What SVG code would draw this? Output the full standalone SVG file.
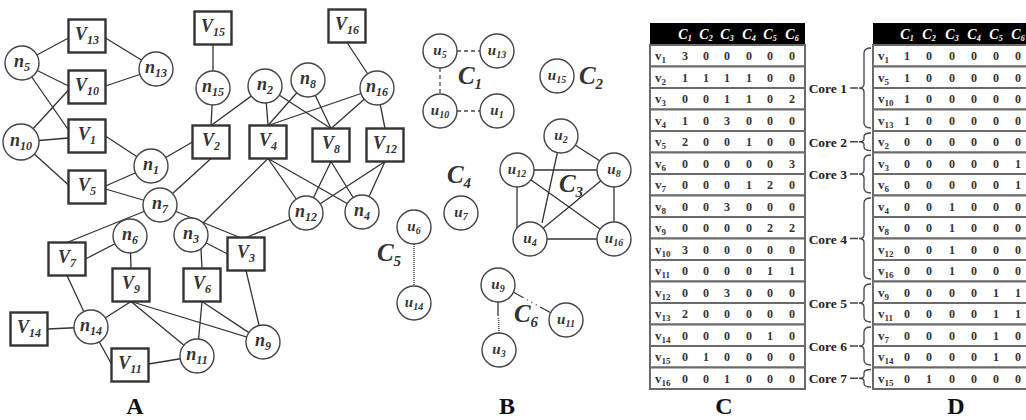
<svg xmlns="http://www.w3.org/2000/svg" width="1026" height="420" viewBox="0 0 1026 420">
<style>
.e{stroke:#333;stroke-width:1.3;fill:none}
.c{fill:#fff;stroke:#444;stroke-width:1.4}
.b{fill:#fff;stroke:#333;stroke-width:2.4}
.t{font-family:"Liberation Serif",serif;font-style:italic;font-weight:bold;font-size:18px;fill:#333;text-anchor:middle}
.s{font-size:12px}
.u{font-size:15px}
.us{font-size:10px}
.cl{font-size:25px}
.cs{font-size:15px}
.pl{font-family:"Liberation Serif",serif;font-weight:bold;font-size:24px;text-anchor:middle;fill:#111}
.tv{font-family:"Liberation Serif",serif;font-weight:bold;font-size:12px;fill:#333;text-anchor:middle}
.rl{font-family:"Liberation Serif",serif;font-weight:bold;font-size:13px;fill:#333}
.rs{font-size:9px}
.th{font-family:"Liberation Serif",serif;font-style:italic;font-weight:bold;font-size:14px;fill:#fff;text-anchor:middle}
.ths{font-size:8px}
.row{fill:#fff;stroke:#6a6a6a;stroke-width:2}
.core{font-family:"Liberation Serif",serif;font-weight:bold;font-size:13.5px;fill:#222;text-anchor:end}
.br{fill:none;stroke:#444;stroke-width:1.3}
.dash{stroke:#444;stroke-width:1.3;stroke-dasharray:4 3;fill:none}
.dot{stroke:#444;stroke-width:1.5;stroke-dasharray:1 1;fill:none}
</style>
<rect width="1026" height="420" fill="#fff"/>

<!-- Panel A connectors -->
<g id="connectors-A" class="e">
<path d="M22 63L68.5 38M22 63L68.5 86M22 63L68.5 130M105.5 38L156 69M105.5 86L156 69M21 142L68.5 90M21 142L68.5 138M21 142L68.5 185M105.5 136L151 166M105.5 186L151 166M105.5 189L160 205M151 166L192.5 142M160 205L211 158.5"/>
<path d="M213 44.5L213 88M213 88L211 125.5M265 86L211 125.5M265 86L268 125.5M265 86L331 128.5M308 80L268 125.5M308 80L331 128.5M377 88L268 125.5M377 88L331 128.5M377 88L385 128.5M347 42.5L377 88"/>
<path d="M268 158.5L306 213M268 158.5L362 212M331 161.5L306 213M331 161.5L362 212M385 161.5L306 213M385 161.5L362 212M268 158.5L191 235"/>
<path d="M160 205L240 237.5M306 213L246 237.5M191 235L227.5 254M201 249L202 268.5M246 270.5L263 342M202 301.5L197 356M202 301.5L263 342M131 301.5L263 342M131 301.5L197 356"/>
<path d="M160 205L67 242.5M85.5 259L130 236M130 236L131 268.5M67 275.5L91 327M91 327L131 301.5M47.5 329L91 327M91 327L111.5 364M148.5 364L197 356"/>
</g>

<!-- Panel A nodes -->
<g id="n5"><circle class="c" cx="22" cy="63" r="17"/><text class="t" x="22" y="67">n<tspan class="s" dy="4">5</tspan></text></g>
<g id="n13"><circle class="c" cx="156" cy="69" r="17"/><text class="t" x="156" y="73">n<tspan class="s" dy="4">13</tspan></text></g>
<g id="n10"><circle class="c" cx="21" cy="142" r="18"/><text class="t" x="21" y="146">n<tspan class="s" dy="4">10</tspan></text></g>
<g id="n1"><circle class="c" cx="151" cy="166" r="17"/><text class="t" x="151" y="170">n<tspan class="s" dy="4">1</tspan></text></g>
<g id="n7"><circle class="c" cx="160" cy="205" r="17"/><text class="t" x="160" y="209">n<tspan class="s" dy="4">7</tspan></text></g>
<g id="n15"><circle class="c" cx="213" cy="88" r="17"/><text class="t" x="213" y="92">n<tspan class="s" dy="4">15</tspan></text></g>
<g id="n2"><circle class="c" cx="265" cy="86" r="17"/><text class="t" x="265" y="90">n<tspan class="s" dy="4">2</tspan></text></g>
<g id="n8"><circle class="c" cx="308" cy="80" r="17"/><text class="t" x="308" y="84">n<tspan class="s" dy="4">8</tspan></text></g>
<g id="n16"><circle class="c" cx="377" cy="88" r="17"/><text class="t" x="377" y="92">n<tspan class="s" dy="4">16</tspan></text></g>
<g id="n12"><circle class="c" cx="306" cy="213" r="17"/><text class="t" x="306" y="217">n<tspan class="s" dy="4">12</tspan></text></g>
<g id="n4"><circle class="c" cx="362" cy="212" r="17"/><text class="t" x="362" y="216">n<tspan class="s" dy="4">4</tspan></text></g>
<g id="n3"><circle class="c" cx="191" cy="235" r="17"/><text class="t" x="191" y="239">n<tspan class="s" dy="4">3</tspan></text></g>
<g id="n6"><circle class="c" cx="130" cy="236" r="17"/><text class="t" x="130" y="240">n<tspan class="s" dy="4">6</tspan></text></g>
<g id="n14"><circle class="c" cx="91" cy="327" r="17"/><text class="t" x="91" y="331">n<tspan class="s" dy="4">14</tspan></text></g>
<g id="n9"><circle class="c" cx="263" cy="342" r="17"/><text class="t" x="263" y="346">n<tspan class="s" dy="4">9</tspan></text></g>
<g id="n11"><circle class="c" cx="197" cy="356" r="17"/><text class="t" x="197" y="360">n<tspan class="s" dy="4">11</tspan></text></g>

<g id="V13"><rect class="b" x="68.5" y="19.5" width="37" height="33"/><text class="t" x="87" y="40">V<tspan class="s" dy="4">13</tspan></text></g>
<g id="V10"><rect class="b" x="68.5" y="70.5" width="37" height="33"/><text class="t" x="87" y="91">V<tspan class="s" dy="4">10</tspan></text></g>
<g id="V1"><rect class="b" x="68.5" y="119.5" width="37" height="33"/><text class="t" x="87" y="140">V<tspan class="s" dy="4">1</tspan></text></g>
<g id="V5"><rect class="b" x="68.5" y="170.5" width="37" height="33"/><text class="t" x="87" y="191">V<tspan class="s" dy="4">5</tspan></text></g>
<g id="V15"><rect class="b" x="194.5" y="11.5" width="37" height="33"/><text class="t" x="213" y="32">V<tspan class="s" dy="4">15</tspan></text></g>
<g id="V16"><rect class="b" x="328.5" y="9.5" width="37" height="33"/><text class="t" x="347" y="30">V<tspan class="s" dy="4">16</tspan></text></g>
<g id="V2"><rect class="b" x="192.5" y="125.5" width="37" height="33"/><text class="t" x="211" y="146">V<tspan class="s" dy="4">2</tspan></text></g>
<g id="V4"><rect class="b" x="249.5" y="125.5" width="37" height="33"/><text class="t" x="268" y="146">V<tspan class="s" dy="4">4</tspan></text></g>
<g id="V8"><rect class="b" x="312.5" y="128.5" width="37" height="33"/><text class="t" x="331" y="149">V<tspan class="s" dy="4">8</tspan></text></g>
<g id="V12"><rect class="b" x="366.5" y="128.5" width="37" height="33"/><text class="t" x="385" y="149">V<tspan class="s" dy="4">12</tspan></text></g>
<g id="V3"><rect class="b" x="227.5" y="237.5" width="37" height="33"/><text class="t" x="246" y="258">V<tspan class="s" dy="4">3</tspan></text></g>
<g id="V6"><rect class="b" x="183.5" y="268.5" width="37" height="33"/><text class="t" x="202" y="289">V<tspan class="s" dy="4">6</tspan></text></g>
<g id="V7"><rect class="b" x="48.5" y="242.5" width="37" height="33"/><text class="t" x="67" y="263">V<tspan class="s" dy="4">7</tspan></text></g>
<g id="V9"><rect class="b" x="112.5" y="268.5" width="37" height="33"/><text class="t" x="131" y="289">V<tspan class="s" dy="4">9</tspan></text></g>
<g id="V14"><rect class="b" x="10.5" y="312.5" width="37" height="33"/><text class="t" x="29" y="333">V<tspan class="s" dy="4">14</tspan></text></g>
<g id="V11"><rect class="b" x="111.5" y="348.5" width="37" height="33"/><text class="t" x="130" y="369">V<tspan class="s" dy="4">11</tspan></text></g>

<text class="pl" x="135" y="414">A</text>

<!-- Panel B connectors -->
<g id="connectors-B">
<path class="dash" d="M457 51L480 51M440 68L440 94M457 111L480 111"/>
<path class="dot" d="M414 244L414 286"/>
<path class="e" d="M513 292L551 313" stroke-dasharray="12 4 1 4 1 4 1 4 12"/>
<path class="e" d="M498 302L498 316"/>
<path class="dot" d="M498.5 318L499 333" stroke-dasharray="1 3"/>
<path class="e" d="M561 136L614 170M561 136L542 223M517 170L614 170M517 170L517 239M517 170L614 239M614 170L530 239M614 170L614 239M530 239L614 239"/>
</g>

<!-- Panel B nodes -->
<g id="u5"><circle class="c" cx="440" cy="51" r="17"/><text class="t u" x="440" y="55">u<tspan class="us" dy="3">5</tspan></text></g>
<g id="u13"><circle class="c" cx="497" cy="51" r="17"/><text class="t u" x="497" y="55">u<tspan class="us" dy="3">13</tspan></text></g>
<g id="u10"><circle class="c" cx="440" cy="111" r="17"/><text class="t u" x="440" y="115">u<tspan class="us" dy="3">10</tspan></text></g>
<g id="u1"><circle class="c" cx="497" cy="111" r="17"/><text class="t u" x="497" y="115">u<tspan class="us" dy="3">1</tspan></text></g>
<g id="u15"><circle class="c" cx="557" cy="76" r="17"/><text class="t u" x="557" y="80">u<tspan class="us" dy="3">15</tspan></text></g>
<g id="u2"><circle class="c" cx="561" cy="136" r="17"/><text class="t u" x="561" y="140">u<tspan class="us" dy="3">2</tspan></text></g>
<g id="u12"><circle class="c" cx="517" cy="170" r="17"/><text class="t u" x="517" y="174">u<tspan class="us" dy="3">12</tspan></text></g>
<g id="u8"><circle class="c" cx="614" cy="170" r="17"/><text class="t u" x="614" y="174">u<tspan class="us" dy="3">8</tspan></text></g>
<g id="u4"><circle class="c" cx="530" cy="239" r="17"/><text class="t u" x="530" y="243">u<tspan class="us" dy="3">4</tspan></text></g>
<g id="u16"><circle class="c" cx="614" cy="239" r="17"/><text class="t u" x="614" y="243">u<tspan class="us" dy="3">16</tspan></text></g>
<g id="u7"><circle class="c" cx="461" cy="213" r="17"/><text class="t u" x="461" y="217">u<tspan class="us" dy="3">7</tspan></text></g>
<g id="u6"><circle class="c" cx="414" cy="227" r="17"/><text class="t u" x="414" y="231">u<tspan class="us" dy="3">6</tspan></text></g>
<g id="u14"><circle class="c" cx="414" cy="303" r="17"/><text class="t u" x="414" y="307">u<tspan class="us" dy="3">14</tspan></text></g>
<g id="u9"><circle class="c" cx="498" cy="285" r="17"/><text class="t u" x="498" y="289">u<tspan class="us" dy="3">9</tspan></text></g>
<g id="u11"><circle class="c" cx="566" cy="320" r="17"/><text class="t u" x="566" y="324">u<tspan class="us" dy="3">11</tspan></text></g>
<g id="u3"><circle class="c" cx="499" cy="350" r="17"/><text class="t u" x="499" y="354">u<tspan class="us" dy="3">3</tspan></text></g>

<text class="t cl" x="470" y="84">C<tspan class="cs" dy="5">1</tspan></text>
<text class="t cl" x="591" y="84">C<tspan class="cs" dy="5">2</tspan></text>
<text class="t cl" x="571" y="192">C<tspan class="cs" dy="5">3</tspan></text>
<text class="t cl" x="459" y="183">C<tspan class="cs" dy="5">4</tspan></text>
<text class="t cl" x="389" y="261">C<tspan class="cs" dy="5">5</tspan></text>
<text class="t cl" x="526" y="322">C<tspan class="cs" dy="5">6</tspan></text>

<text class="pl" x="507" y="414">B</text>

<!-- Panel C table -->
<g id="tableC">
<rect x="650" y="23" width="155" height="22" fill="#000"/>
<text class="th" x="685" y="39">C<tspan class="ths" dy="2">1</tspan></text>
<text class="th" x="706" y="39">C<tspan class="ths" dy="2">2</tspan></text>
<text class="th" x="727" y="39">C<tspan class="ths" dy="2">3</tspan></text>
<text class="th" x="749" y="39">C<tspan class="ths" dy="2">4</tspan></text>
<text class="th" x="770" y="39">C<tspan class="ths" dy="2">5</tspan></text>
<text class="th" x="792" y="39">C<tspan class="ths" dy="2">6</tspan></text>
<rect class="row" x="650" y="45" width="155" height="21.5"/>
<rect class="row" x="650" y="66.5" width="155" height="21.5"/>
<rect class="row" x="650" y="88" width="155" height="21.5"/>
<rect class="row" x="650" y="109.5" width="155" height="21.5"/>
<rect class="row" x="650" y="131" width="155" height="21.5"/>
<rect class="row" x="650" y="152.5" width="155" height="21.5"/>
<rect class="row" x="650" y="174" width="155" height="21.5"/>
<rect class="row" x="650" y="195.5" width="155" height="21.5"/>
<rect class="row" x="650" y="217" width="155" height="21.5"/>
<rect class="row" x="650" y="238.5" width="155" height="21.5"/>
<rect class="row" x="650" y="260" width="155" height="21.5"/>
<rect class="row" x="650" y="281.5" width="155" height="21.5"/>
<rect class="row" x="650" y="303" width="155" height="21.5"/>
<rect class="row" x="650" y="324.5" width="155" height="21.5"/>
<rect class="row" x="650" y="346" width="155" height="21.5"/>
<rect class="row" x="650" y="367.5" width="155" height="21.5"/>
<text class="rl" x="655" y="60">v<tspan class="rs" dy="3">1</tspan></text>
<text class="rl" x="655" y="81.5">v<tspan class="rs" dy="3">2</tspan></text>
<text class="rl" x="655" y="103">v<tspan class="rs" dy="3">3</tspan></text>
<text class="rl" x="655" y="124.5">v<tspan class="rs" dy="3">4</tspan></text>
<text class="rl" x="655" y="146">v<tspan class="rs" dy="3">5</tspan></text>
<text class="rl" x="655" y="167.5">v<tspan class="rs" dy="3">6</tspan></text>
<text class="rl" x="655" y="189">v<tspan class="rs" dy="3">7</tspan></text>
<text class="rl" x="655" y="210.5">v<tspan class="rs" dy="3">8</tspan></text>
<text class="rl" x="655" y="232">v<tspan class="rs" dy="3">9</tspan></text>
<text class="rl" x="655" y="253.5">v<tspan class="rs" dy="3">10</tspan></text>
<text class="rl" x="655" y="275">v<tspan class="rs" dy="3">11</tspan></text>
<text class="rl" x="655" y="296.5">v<tspan class="rs" dy="3">12</tspan></text>
<text class="rl" x="655" y="318">v<tspan class="rs" dy="3">13</tspan></text>
<text class="rl" x="655" y="339.5">v<tspan class="rs" dy="3">14</tspan></text>
<text class="rl" x="655" y="361">v<tspan class="rs" dy="3">15</tspan></text>
<text class="rl" x="655" y="382.5">v<tspan class="rs" dy="3">16</tspan></text>
<text class="tv" x="685 706 727 749 770 792" y="60">300000</text>
<text class="tv" x="685 706 727 749 770 792" y="81.5">111100</text>
<text class="tv" x="685 706 727 749 770 792" y="103">001102</text>
<text class="tv" x="685 706 727 749 770 792" y="124.5">103000</text>
<text class="tv" x="685 706 727 749 770 792" y="146">200100</text>
<text class="tv" x="685 706 727 749 770 792" y="167.5">000003</text>
<text class="tv" x="685 706 727 749 770 792" y="189">000120</text>
<text class="tv" x="685 706 727 749 770 792" y="210.5">003000</text>
<text class="tv" x="685 706 727 749 770 792" y="232">000022</text>
<text class="tv" x="685 706 727 749 770 792" y="253.5">300000</text>
<text class="tv" x="685 706 727 749 770 792" y="275">000011</text>
<text class="tv" x="685 706 727 749 770 792" y="296.5">003000</text>
<text class="tv" x="685 706 727 749 770 792" y="318">200000</text>
<text class="tv" x="685 706 727 749 770 792" y="339.5">000010</text>
<text class="tv" x="685 706 727 749 770 792" y="361">010000</text>
<text class="tv" x="685 706 727 749 770 792" y="382.5">001000</text>
</g>
<text class="pl" x="724" y="414">C</text>

<!-- Panel D table -->
<g id="tableD">
<rect x="873" y="23" width="160" height="22" fill="#000"/>
<text class="th" x="907" y="39">C<tspan class="ths" dy="2">1</tspan></text>
<text class="th" x="929" y="39">C<tspan class="ths" dy="2">2</tspan></text>
<text class="th" x="952" y="39">C<tspan class="ths" dy="2">3</tspan></text>
<text class="th" x="974" y="39">C<tspan class="ths" dy="2">4</tspan></text>
<text class="th" x="996" y="39">C<tspan class="ths" dy="2">5</tspan></text>
<text class="th" x="1018" y="39">C<tspan class="ths" dy="2">6</tspan></text>
<rect class="row" x="873" y="45" width="160" height="21.5"/>
<rect class="row" x="873" y="66.5" width="160" height="21.5"/>
<rect class="row" x="873" y="88" width="160" height="21.5"/>
<rect class="row" x="873" y="109.5" width="160" height="21.5"/>
<rect class="row" x="873" y="131" width="160" height="21.5"/>
<rect class="row" x="873" y="152.5" width="160" height="21.5"/>
<rect class="row" x="873" y="174" width="160" height="21.5"/>
<rect class="row" x="873" y="195.5" width="160" height="21.5"/>
<rect class="row" x="873" y="217" width="160" height="21.5"/>
<rect class="row" x="873" y="238.5" width="160" height="21.5"/>
<rect class="row" x="873" y="260" width="160" height="21.5"/>
<rect class="row" x="873" y="281.5" width="160" height="21.5"/>
<rect class="row" x="873" y="303" width="160" height="21.5"/>
<rect class="row" x="873" y="324.5" width="160" height="21.5"/>
<rect class="row" x="873" y="346" width="160" height="21.5"/>
<rect class="row" x="873" y="367.5" width="160" height="21.5"/>
<text class="rl" x="878" y="60">v<tspan class="rs" dy="3">1</tspan></text>
<text class="rl" x="878" y="81.5">v<tspan class="rs" dy="3">5</tspan></text>
<text class="rl" x="878" y="103">v<tspan class="rs" dy="3">10</tspan></text>
<text class="rl" x="878" y="124.5">v<tspan class="rs" dy="3">13</tspan></text>
<text class="rl" x="878" y="146">v<tspan class="rs" dy="3">2</tspan></text>
<text class="rl" x="878" y="167.5">v<tspan class="rs" dy="3">3</tspan></text>
<text class="rl" x="878" y="189">v<tspan class="rs" dy="3">6</tspan></text>
<text class="rl" x="878" y="210.5">v<tspan class="rs" dy="3">4</tspan></text>
<text class="rl" x="878" y="232">v<tspan class="rs" dy="3">8</tspan></text>
<text class="rl" x="878" y="253.5">v<tspan class="rs" dy="3">12</tspan></text>
<text class="rl" x="878" y="275">v<tspan class="rs" dy="3">16</tspan></text>
<text class="rl" x="878" y="296.5">v<tspan class="rs" dy="3">9</tspan></text>
<text class="rl" x="878" y="318">v<tspan class="rs" dy="3">11</tspan></text>
<text class="rl" x="878" y="339.5">v<tspan class="rs" dy="3">7</tspan></text>
<text class="rl" x="878" y="361">v<tspan class="rs" dy="3">14</tspan></text>
<text class="rl" x="878" y="382.5">v<tspan class="rs" dy="3">15</tspan></text>
<text class="tv" x="907 929 952 974 996 1018" y="60">100000</text>
<text class="tv" x="907 929 952 974 996 1018" y="81.5">100000</text>
<text class="tv" x="907 929 952 974 996 1018" y="103">100000</text>
<text class="tv" x="907 929 952 974 996 1018" y="124.5">100000</text>
<text class="tv" x="907 929 952 974 996 1018" y="146">000000</text>
<text class="tv" x="907 929 952 974 996 1018" y="167.5">000001</text>
<text class="tv" x="907 929 952 974 996 1018" y="189">000001</text>
<text class="tv" x="907 929 952 974 996 1018" y="210.5">001000</text>
<text class="tv" x="907 929 952 974 996 1018" y="232">001000</text>
<text class="tv" x="907 929 952 974 996 1018" y="253.5">001000</text>
<text class="tv" x="907 929 952 974 996 1018" y="275">001000</text>
<text class="tv" x="907 929 952 974 996 1018" y="296.5">000011</text>
<text class="tv" x="907 929 952 974 996 1018" y="318">000011</text>
<text class="tv" x="907 929 952 974 996 1018" y="339.5">000010</text>
<text class="tv" x="907 929 952 974 996 1018" y="361">000010</text>
<text class="tv" x="907 929 952 974 996 1018" y="382.5">010000</text>
</g>

<!-- Core braces -->
<g id="core1"><text class="core" x="847" y="93">Core 1</text><path class="br" d="M850 88H858M871 48Q864 48 864 53V84Q864 88 859 88Q864 88 864 92V123Q864 128 871 128"/></g>
<g id="core2"><text class="core" x="847" y="146.5">Core 2</text><path class="br" d="M850 141.75H858M871 133Q864 133 864 136.5V139Q864 141.75 859 141.75Q864 141.75 864 144.5V147Q864 150.5 871 150.5"/></g>
<g id="core3"><text class="core" x="847" y="179">Core 3</text><path class="br" d="M850 174H858M871 155Q864 155 864 160V170Q864 174 859 174Q864 174 864 178V188Q864 193 871 193"/></g>
<g id="core4"><text class="core" x="847" y="243.5">Core 4</text><path class="br" d="M850 238.5H858M871 198Q864 198 864 203V234.5Q864 238.5 859 238.5Q864 238.5 864 242.5V274Q864 279 871 279"/></g>
<g id="core5"><text class="core" x="847" y="308">Core 5</text><path class="br" d="M850 303H858M871 284Q864 284 864 289V299Q864 303 859 303Q864 303 864 307V317Q864 322 871 322"/></g>
<g id="core6"><text class="core" x="847" y="351">Core 6</text><path class="br" d="M850 346H858M871 327Q864 327 864 332V342Q864 346 859 346Q864 346 864 350V360Q864 365 871 365"/></g>
<g id="core7"><text class="core" x="847" y="383">Core 7</text><path class="br" d="M850 378.25H858M871 369.5Q864 369.5 864 373V375.5Q864 378.25 859 378.25Q864 378.25 864 381V383.5Q864 387 871 387"/></g>

<text class="pl" x="956" y="414">D</text>
</svg>
